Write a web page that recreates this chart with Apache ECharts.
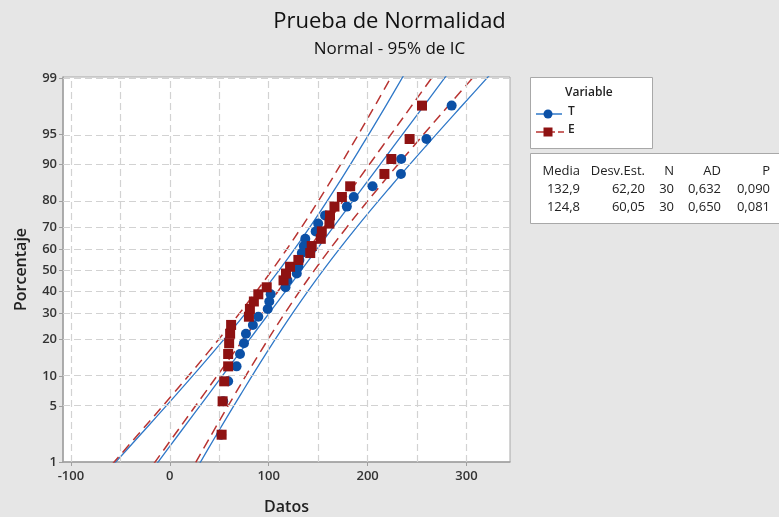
<!DOCTYPE html>
<html>
<head>
<meta charset="utf-8">
<script src="https://cdn.jsdelivr.net/npm/echarts@6/dist/echarts.min.js"></script>
<style>
html,body{margin:0;padding:0;background:#e6e6e6;}
#chart{width:779px;height:517px;}
</style>
</head>
<body>
<div id="chart"></div>
<script>
// ---- data ----
const tickPct = [1, 5, 10, 20, 30, 40, 50, 60, 70, 80, 90, 95, 99];
const xTicks = [-100, 0, 100, 200, 300];
const xGrid = [-100, -50, 0, 50, 100, 150, 200, 250, 300];
// plotting positions (%) for N = 30
const plotPct = [2.30, 5.59, 8.88, 12.17, 15.46, 18.75, 22.04, 25.33, 28.62, 31.91,
  35.20, 38.49, 41.78, 45.07, 48.36, 51.64, 54.93, 58.22, 61.51, 64.80,
  68.09, 71.38, 74.67, 77.96, 81.25, 84.54, 87.83, 91.12, 94.41, 97.70];
const T_values = [52, 54, 59, 67.5, 71, 75, 77, 84, 89.5, 99,
  100.6, 102, 117, 119, 128.4, 130, 131, 133.5, 135.5, 137,
  147.5, 150, 157, 179, 186, 205, 233.7, 234, 259.5, 285];
const E_values = [52.4, 53.4, 55, 59, 59, 60, 61, 62, 80, 81,
  85, 89.5, 98, 115, 117.5, 121.6, 130, 142, 143.5, 152.7,
  153.7, 161.4, 162, 166.5, 174, 182.4, 217, 224, 242.5, 255];
// fitted line and 95% CI band, sampled at these percent levels
const bandPct = [0.62, 2.28, 6.68, 15.87, 30.85, 50, 69.15, 84.13, 93.32, 97.72, 99.38];
const T_fit   = [-22.6, 8.5, 39.6, 70.7, 101.8, 132.9, 164.0, 195.1, 226.2, 257.3, 288.4];
const T_lower = [-67.8, -30.05, 7.15, 43.44, 78.19, 110.64, 140.39, 167.84, 193.75, 218.75, 243.19];
const T_upper = [22.61, 47.05, 72.05, 97.96, 125.41, 155.16, 187.61, 222.36, 258.65, 295.85, 333.61];
const E_fit   = [-25.33, 4.7, 34.73, 64.75, 94.78, 124.8, 154.83, 184.85, 214.88, 244.9, 274.93];
const E_lower = [-68.97, -32.52, 3.40, 38.43, 71.99, 103.31, 132.04, 158.53, 183.55, 207.68, 231.29];
const E_upper = [18.31, 41.92, 66.06, 91.07, 117.57, 146.29, 177.62, 211.17, 246.21, 282.12, 318.57];
const statHeader = ['Media', 'Desv.Est.', 'N', 'AD', 'P'];
const statT = ['132,9', '62,20', '30', '0,632', '0,090'];
const statE = ['124,8', '60,05', '30', '0,650', '0,081'];

// ---- probability (normal) axis transform ----
function probit(p) {
  const a = [-3.969683028665376e+01, 2.209460984245205e+02, -2.759285104469687e+02, 1.383577518672690e+02, -3.066479806614716e+01, 2.506628277459239e+00];
  const b = [-5.447609879822406e+01, 1.615858368580409e+02, -1.556989798598866e+02, 6.680131188771972e+01, -1.328068155288572e+01];
  const c = [-7.784894002430293e-03, -3.223964580411365e-01, -2.400758277161838e+00, -2.549732539343734e+00, 4.374664141464968e+00, 2.938163982698783e+00];
  const d = [7.784695709041462e-03, 3.224671290700398e-01, 2.445134137142996e+00, 3.754408661907416e+00];
  const pl = 0.02425, ph = 1 - pl;
  let q, r;
  if (p < pl) {
    q = Math.sqrt(-2 * Math.log(p));
    return (((((c[0]*q+c[1])*q+c[2])*q+c[3])*q+c[4])*q+c[5]) / ((((d[0]*q+d[1])*q+d[2])*q+d[3])*q+1);
  } else if (p <= ph) {
    q = p - 0.5; r = q*q;
    return (((((a[0]*r+a[1])*r+a[2])*r+a[3])*r+a[4])*r+a[5])*q / (((((b[0]*r+b[1])*r+b[2])*r+b[3])*r+b[4])*r+1);
  } else {
    q = Math.sqrt(-2 * Math.log(1 - p));
    return -(((((c[0]*q+c[1])*q+c[2])*q+c[3])*q+c[4])*q+c[5]) / ((((d[0]*q+d[1])*q+d[2])*q+d[3])*q+1);
  }
}
const z = pct => probit(pct / 100);
const tickZ = tickPct.map(z);

const BLUE_M = '#0b50a6', BLUE_L = '#2f78c8';
const RED_M = '#8e1212', RED_L = '#b83432';
const FONT = 'Open Sans';

function curve(xs) { return xs.map((x, i) => [x, z(bandPct[i])]); }
function pts(xs) { return xs.map((x, i) => [x, z(plotPct[i])]); }

function lineSeries(name, xs, color, dashed) {
  return {
    type: 'line', name: name, data: curve(xs), smooth: 0.4, showSymbol: false, symbol: 'none',
    clip: true, silent: true, z: 3,
    lineStyle: { color: color, width: dashed ? 1.5 : 1.3, type: dashed ? [10, 6] : 'solid' }
  };
}

const chart = echarts.init(document.getElementById('chart'), null, { renderer: 'canvas' });

const gridDash = { color: '#d2d2d2', width: 1.2, type: [7, 4] };

const option = {
  animation: false,
  backgroundColor: '#e6e6e6',
  title: {
    text: 'Prueba de Normalidad',
    subtext: 'Normal - 95% de IC',
    left: 'center', top: 6, itemGap: 8,
    textStyle: { fontFamily: FONT, fontSize: 22, fontWeight: 500, color: '#111' },
    subtextStyle: { fontFamily: FONT, fontSize: 17, fontWeight: 500, color: '#111' }
  },
  grid: { left: 63, right: 269, top: 77, bottom: 55, outerBoundsMode: 'none', containLabel: false,
    show: true, backgroundColor: '#fff', borderColor: '#a8a8a8', borderWidth: 1 },
  xAxis: {
    type: 'value', min: -108, max: 344,
    name: 'Datos', nameLocation: 'middle', nameGap: 37,
    nameTextStyle: { fontFamily: FONT, fontSize: 16, fontWeight: 600, color: '#222' },
    axisLine: { show: true, onZero: false, lineStyle: { color: '#a0a0a0', width: 1.5 } },
    axisTick: { show: true, length: 4, customValues: xTicks, lineStyle: { color: '#a0a0a0' } },
    axisLabel: { customValues: xTicks, fontFamily: FONT, fontSize: 13, fontWeight: 600, color: '#333', margin: 8 },
    splitLine: { show: false }
  },
  yAxis: {
    type: 'value', min: z(1), max: z(99) + 0.016,
    name: 'Porcentaje', nameLocation: 'middle', nameGap: 34, nameRotate: 90,
    nameTextStyle: { fontFamily: FONT, fontSize: 16, fontWeight: 600, color: '#222' },
    axisLine: { show: true, onZero: false, lineStyle: { color: '#a0a0a0', width: 1.5 } },
    axisTick: { show: true, length: 4, customValues: tickZ, lineStyle: { color: '#a0a0a0' } },
    axisLabel: {
      customValues: tickZ, fontFamily: FONT, fontSize: 13, fontWeight: 600, color: '#333', margin: 6,
      formatter: function (v) {
        let best = 0, bd = 1e9;
        tickZ.forEach((t, i) => { const dd = Math.abs(t - v); if (dd < bd) { bd = dd; best = i; } });
        return String(tickPct[best]);
      }
    },
    splitLine: { show: false }
  },
  series: [
    {
      type: 'line', name: 'grid', data: [], silent: true, z: 1,
      markLine: {
        silent: true, symbol: 'none', label: { show: false }, animation: false,
        lineStyle: gridDash,
        data: xGrid.map(v => ({ xAxis: v })).concat(tickZ.map(v => ({ yAxis: v })))
      }
    },
    lineSeries('T', T_lower, BLUE_L, false),
    lineSeries('T', T_fit, BLUE_L, false),
    lineSeries('T', T_upper, BLUE_L, false),
    lineSeries('E', E_lower, RED_L, true),
    lineSeries('E', E_fit, RED_L, true),
    lineSeries('E', E_upper, RED_L, true),
    { type: 'scatter', name: 'T', data: pts(T_values), symbol: 'circle', symbolSize: 10, z: 5,
      itemStyle: { color: BLUE_M, opacity: 1 } },
    { type: 'scatter', name: 'E', data: pts(E_values), symbol: 'rect', symbolSize: 10, z: 6,
      itemStyle: { color: RED_M, opacity: 1 } }
  ],
  graphic: [
    // legend box
    { type: 'rect', left: 530, top: 77, shape: { width: 122, height: 71 }, style: { fill: '#fff', stroke: '#a8a8a8', lineWidth: 1 } },
    { type: 'text', left: 565, top: 87, style: { text: 'Variable', font: '600 12px "Open Sans"', fill: '#222' } },
    { type: 'line', shape: { x1: 536, y1: 114, x2: 562, y2: 114 }, style: { stroke: BLUE_L, lineWidth: 1.5 } },
    { type: 'circle', shape: { cx: 548, cy: 114, r: 4.5 }, style: { fill: BLUE_M } },
    { type: 'text', left: 568, top: 106, style: { text: 'T', font: '600 12px "Open Sans"', fill: '#222' } },
    { type: 'line', shape: { x1: 536, y1: 132, x2: 564, y2: 132 }, style: { stroke: RED_L, lineWidth: 1.5, lineDash: [8, 3] } },
    { type: 'rect', shape: { x: 543.5, y: 127.5, width: 9, height: 9 }, style: { fill: RED_M } },
    { type: 'text', left: 568, top: 124, style: { text: 'E', font: '600 12px "Open Sans"', fill: '#222' } },
    // statistics table
    { type: 'rect', left: 530, top: 153, shape: { width: 262, height: 70 }, style: { fill: '#fff', stroke: '#a8a8a8', lineWidth: 1 } }
  ].concat((function () {
    const rights = [580, 645, 674, 721, 770];
    const rows = [statHeader, statT, statE];
    const ys = [171, 189, 207];
    const out = [];
    rows.forEach((row, r) => row.forEach((t, c) => {
      out.push({ type: 'text', x: rights[c], y: ys[r], style: { text: t, font: '13px "Open Sans"', fill: '#222', textAlign: 'right', textVerticalAlign: 'middle' } });
    }));
    return out;
  })())
};
chart.setOption(option);
</script>
</body>
</html>
